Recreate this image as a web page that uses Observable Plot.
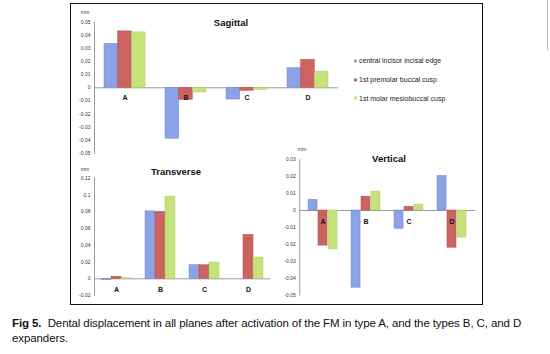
<!DOCTYPE html>
<html><head><meta charset="utf-8">
<script src="https://cdn.jsdelivr.net/npm/d3@7"></script>
<script src="https://cdn.jsdelivr.net/npm/@observablehq/plot@0.6"></script>
<style>
html,body{margin:0;padding:0;background:#fff;}
#page{position:relative;width:550px;height:354px;overflow:hidden;background:#fff;font-family:"Liberation Sans",Arial,sans-serif;}
#box{position:absolute;left:70px;top:3px;width:411px;height:300px;border:1.5px solid #111;box-sizing:content-box;}
.ttl{position:absolute;font-weight:bold;font-size:9.5px;color:#111;transform:translate(-50%,-50%);white-space:nowrap;}
.mm{position:absolute;font-size:5px;color:#333;transform:translate(-50%,-50%);}
.leg{position:absolute;font-size:7px;color:#222;white-space:nowrap;transform:translateY(-50%);}
.leg span{display:inline-block;width:3px;height:3px;margin-right:2px;vertical-align:middle;}
#cap{position:absolute;left:12px;top:316px;font-size:11.5px;letter-spacing:-0.1px;line-height:15px;color:#111;font-family:"Liberation Sans",Arial,sans-serif;white-space:nowrap;}
#artifact{position:absolute;left:547px;top:0;width:1px;height:50px;background:#bbb;}
</style>
</head><body>
<div id="page">
  <div id="box"></div>
  <div id="artifact"></div>
</div>
<script>
const categories = ["A", "B", "C", "D"];
const series = ["central incisor incisal edge", "1st premolar buccal cusp", "1st molar mesiobuccal cusp"];
const colors = ["#8ba2e4", "#cc6361", "#c5e27b"];
const strokes = ["#6f88cf", "#b04e4c", "#a9c85f"];

const sagittalCentral = [0.0336, -0.039, -0.009, 0.015];
const sagittalPremolar = [0.0432, -0.0092, -0.0023, 0.0214];
const sagittalMolar = [0.0424, -0.0036, -0.0015, 0.0124];
const sagittalTicks = [-0.05, -0.04, -0.03, -0.02, -0.01, 0, 0.01, 0.02, 0.03, 0.04, 0.05];

const transverseCentral = [-0.0015, 0.0805, 0.0162, 0];
const transversePremolar = [0.0025, 0.0798, 0.0162, 0.0524];
const transverseMolar = [0.0007, 0.098, 0.0194, 0.0254];
const transverseTicks = [-0.02, 0, 0.02, 0.04, 0.06, 0.08, 0.1, 0.12];

const verticalCentral = [0.0063, -0.0457, -0.0108, 0.0204];
const verticalPremolar = [-0.0208, 0.0082, 0.0022, -0.022];
const verticalMolar = [-0.023, 0.0112, 0.0035, -0.016];
const verticalTicks = [-0.05, -0.04, -0.03, -0.02, -0.01, 0, 0.01, 0.02, 0.03];

const titles = ["Sagittal", "Transverse", "Vertical"];

const fmt = d => d === 0 ? "0" : String(+d.toFixed(2));

function chart({arrs, ticks, domain, width, height, mt, mb, ml, mr, groupFrac, labelDy}) {
  const band = (width - ml - mr) / categories.length;
  const barW = band * groupFrac / arrs.length;
  const gap = (band - barW * arrs.length) / 2;
  const bars = arrs.map((arr, j) => Plot.barY(categories, {
    x: d => d, y: (d, i) => arr[i], fill: colors[j], stroke: strokes[j], strokeWidth: 0.5,
    insetLeft: gap + j * barW, insetRight: band - gap - (j + 1) * barW
  }));
  return Plot.plot({
    width, height, marginTop: mt, marginBottom: mb, marginLeft: ml, marginRight: mr,
    style: {background: "transparent", fontFamily: "'Liberation Sans', Arial, sans-serif", overflow: "visible"},
    x: {domain: categories, padding: 0, axis: null},
    y: {domain, label: null},
    marks: [
      Plot.frame({anchor: "left", stroke: "#9a9a9a"}),
      Plot.ruleY([0], {stroke: "#9a9a9a", strokeWidth: 1}),
      ...bars,
      Plot.axisY({ticks, tickFormat: fmt, tickSize: 0, tickPadding: 4, fontSize: 5, fill: "#333", label: null}),
      Plot.text(categories, {x: d => d, y: () => 0, text: d => d, dy: labelDy,
        fontWeight: "bold", fontSize: 7, fill: "#111"})
    ]
  });
}

const page = document.getElementById("page");
function place(el, left, top) {
  el.style.position = "absolute"; el.style.left = left + "px"; el.style.top = top + "px";
  page.appendChild(el);
}

place(chart({arrs: [sagittalCentral, sagittalPremolar, sagittalMolar], ticks: sagittalTicks, domain: [-0.05, 0.05],
  width: 310, height: 158, mt: 22, mb: 5.4, ml: 54, mr: 12, groupFrac: 0.672, labelDy: 10.4}), 40, 0);
place(chart({arrs: [transverseCentral, transversePremolar, transverseMolar], ticks: transverseTicks, domain: [-0.02, 0.12],
  width: 240, height: 135, mt: 12.7, mb: 4.9, ml: 54, mr: 10, groupFrac: 0.68, labelDy: 10.7}), 40, 165);
place(chart({arrs: [verticalCentral, verticalPremolar, verticalMolar], ticks: verticalTicks, domain: [-0.05, 0.03],
  width: 240, height: 155, mt: 14.3, mb: 5.5, ml: 49.3, mr: 15, groupFrac: 0.68, labelDy: 11}), 250, 145);

// titles and unit labels
const titlePos = [[231, 21.7], [176, 171], [389, 158.3]];
titles.forEach((t, i) => {
  const d = document.createElement("div"); d.className = "ttl"; d.textContent = t;
  d.style.left = titlePos[i][0] + "px"; d.style.top = titlePos[i][1] + "px"; page.appendChild(d);
});
[[85, 12], [85, 169], [302, 149.3]].forEach(p => {
  const d = document.createElement("div"); d.className = "mm"; d.textContent = "mm";
  d.style.left = p[0] + "px"; d.style.top = p[1] + "px"; page.appendChild(d);
});

// legend
const legTop = [60, 79, 97.7];
series.forEach((s, i) => {
  const d = document.createElement("div"); d.className = "leg";
  d.style.left = "354px"; d.style.top = legTop[i] + "px";
  const sw = document.createElement("span"); sw.style.background = colors[i];
  d.appendChild(sw); d.appendChild(document.createTextNode(s));
  page.appendChild(d);
});

// caption
const cap = document.createElement("div"); cap.id = "cap";
cap.innerHTML = "<b>Fig 5.</b>&nbsp; Dental displacement in all planes after activation of the FM in type A, and the types B, C, and D<br>expanders.";
page.appendChild(cap);
</script>
</body></html>
